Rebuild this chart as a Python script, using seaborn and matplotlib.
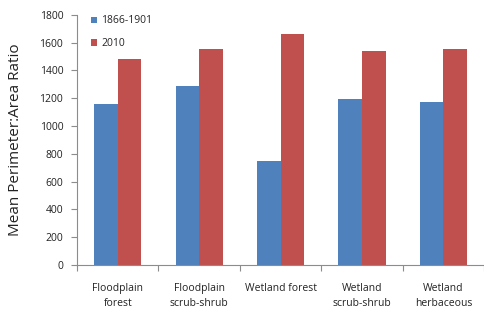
import pandas as pd
import seaborn as sns
import matplotlib.pyplot as plt
from matplotlib.ticker import FixedLocator

# categories and values
habitats = ['Floodplain\nforest', 'Floodplain\nscrub-shrub', 'Wetland forest',
            'Wetland\nscrub-shrub', 'Wetland\nherbaceous']
periods = ['1866-1901', '2010']
ratio_1866_1901 = [1157, 1291, 751, 1193, 1171]
ratio_2010 = [1483, 1555, 1665, 1541, 1555]

dados = pd.DataFrame({
    'habitat': habitats * 2,
    'period': [periods[0]] * len(habitats) + [periods[1]] * len(habitats),
    'ratio': ratio_1866_1901 + ratio_2010,
})

sns.set_style('white')
plt.rcParams['font.family'] = ['Open Sans', 'DejaVu Sans']

fig = plt.figure(figsize=(4.85, 3.1), dpi=100)
ax = fig.add_axes([0.159, 0.145, 0.839, 0.807])

sns.barplot(data=dados, x='habitat', y='ratio', hue='period',
            palette=['#4F81BD', '#C0504D'], width=0.58, saturation=1,
            linewidth=0, ax=ax)

ax.set_ylim(0, 1800)
ax.set_yticks(range(0, 1801, 200))
ax.set_xlim(-0.5, len(habitats) - 0.5)
ax.set_xlabel('')
ax.set_ylabel('Mean Perimeter:Area Ratio', fontsize=11, color='#222222', labelpad=12)

# spines like an Excel chart
sns.despine(ax=ax)
for s in ['left', 'bottom']:
    ax.spines[s].set_color('#8c8c8c')
    ax.spines[s].set_linewidth(0.8)

ax.tick_params(axis='y', labelsize=7.5, length=4, width=0.8, color='#8c8c8c',
               left=True, pad=6, labelcolor='#222222')
ax.tick_params(axis='x', labelsize=7.5, length=0, pad=13, labelcolor='#222222')
for lab in ax.get_xticklabels():
    lab.set_linespacing(1.45)
ax.xaxis.set_minor_locator(FixedLocator([i - 0.5 for i in range(len(habitats) + 1)]))
ax.tick_params(axis='x', which='minor', length=4, width=0.8, color='#8c8c8c', bottom=True)

leg = ax.legend(loc='upper left', bbox_to_anchor=(0.01, 1.035), frameon=False,
                fontsize=7.5, handlelength=0.6, handleheight=0.6,
                handletextpad=0.4, labelspacing=1.1)

plt.savefig('out.png', dpi=100)
